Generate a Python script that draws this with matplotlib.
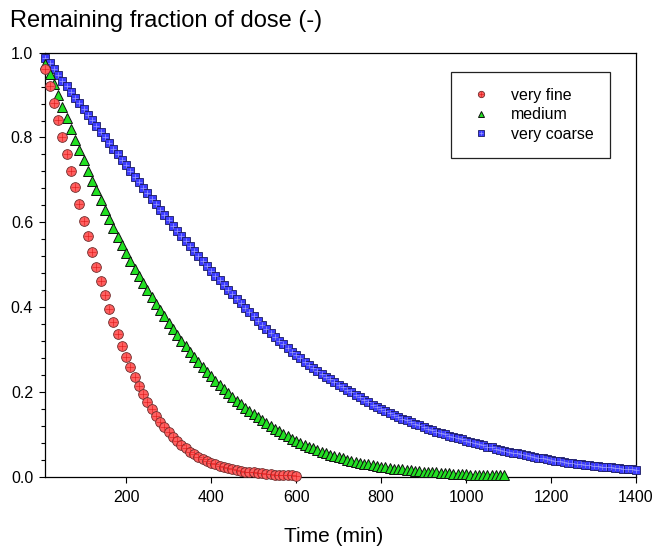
import numpy as np
import matplotlib
matplotlib.use('Agg')
import matplotlib.pyplot as plt
from matplotlib.ticker import MultipleLocator

plt.rcParams['font.family'] = ['Liberation Sans', 'DejaVu Sans']

# Remaining fraction of dose, one point every 10 min starting at 10 min
very_fine = [
    0.961, 0.922, 0.881, 0.841, 0.800, 0.761, 0.722, 0.683, 0.643, 0.604,
    0.567, 0.530, 0.495, 0.461, 0.428, 0.396, 0.365, 0.336, 0.309, 0.283,
    0.258, 0.235, 0.214, 0.195, 0.177, 0.160, 0.144, 0.130, 0.117, 0.105,
    0.094, 0.084, 0.075, 0.067, 0.059, 0.053, 0.047, 0.042, 0.037, 0.033,
    0.029, 0.026, 0.023, 0.020, 0.018, 0.016, 0.014, 0.012, 0.011, 0.010,
    0.009, 0.008, 0.007, 0.006, 0.005, 0.004, 0.004, 0.003, 0.003, 0.002,
]
medium = [
    0.973, 0.950, 0.926, 0.900, 0.873, 0.846, 0.820, 0.795, 0.770, 0.746,
    0.722, 0.698, 0.675, 0.652, 0.630, 0.608, 0.587, 0.566, 0.546, 0.527,
    0.508, 0.490, 0.473, 0.456, 0.440, 0.424, 0.408, 0.393, 0.378, 0.363,
    0.349, 0.335, 0.321, 0.308, 0.295, 0.283, 0.271, 0.259, 0.248, 0.237,
    0.226, 0.216, 0.206, 0.197, 0.188, 0.179, 0.171, 0.163, 0.155, 0.147,
    0.140, 0.133, 0.126, 0.119, 0.113, 0.107, 0.101, 0.095, 0.090, 0.085,
    0.080, 0.075, 0.071, 0.067, 0.063, 0.059, 0.055, 0.052, 0.049, 0.046,
    0.043, 0.040, 0.038, 0.035, 0.033, 0.031, 0.029, 0.027, 0.025, 0.023,
    0.022, 0.020, 0.019, 0.018, 0.017, 0.016, 0.015, 0.014, 0.013, 0.012,
    0.011, 0.010, 0.010, 0.009, 0.008, 0.008, 0.007, 0.007, 0.006, 0.006,
    0.005, 0.005, 0.005, 0.004, 0.004, 0.004, 0.003, 0.003, 0.003,
]
very_coarse = [
    0.988, 0.975, 0.961, 0.948, 0.934, 0.921, 0.908, 0.894, 0.881, 0.867,
    0.854, 0.841, 0.827, 0.814, 0.801, 0.787, 0.774, 0.760, 0.747, 0.734,
    0.721, 0.707, 0.694, 0.681, 0.668, 0.655, 0.642, 0.630, 0.617, 0.605,
    0.592, 0.580, 0.568, 0.556, 0.544, 0.532, 0.520, 0.508, 0.497, 0.485,
    0.474, 0.463, 0.452, 0.441, 0.430, 0.419, 0.409, 0.398, 0.388, 0.378,
    0.368, 0.358, 0.349, 0.339, 0.330, 0.321, 0.312, 0.304, 0.295, 0.287,
    0.279, 0.271, 0.264, 0.256, 0.249, 0.243, 0.236, 0.230, 0.223, 0.217,
    0.211, 0.205, 0.199, 0.193, 0.187, 0.181, 0.176, 0.170, 0.165, 0.160,
    0.155, 0.150, 0.145, 0.141, 0.137, 0.133, 0.129, 0.125, 0.121, 0.117,
    0.113, 0.110, 0.106, 0.103, 0.100, 0.097, 0.094, 0.091, 0.088, 0.085,
    0.082, 0.079, 0.076, 0.074, 0.071, 0.069, 0.066, 0.064, 0.061, 0.059,
    0.057, 0.055, 0.053, 0.051, 0.049, 0.047, 0.045, 0.043, 0.041, 0.040,
    0.038, 0.036, 0.035, 0.033, 0.032, 0.031, 0.029, 0.028, 0.027, 0.026,
    0.025, 0.024, 0.023, 0.022, 0.021, 0.020, 0.019, 0.018, 0.017, 0.016,
]
labels = ['very fine', 'medium', 'very coarse']
time_step = 10

t_fine = time_step * np.arange(1, len(very_fine) + 1)
t_medium = time_step * np.arange(1, len(medium) + 1)
t_coarse = time_step * np.arange(1, len(very_coarse) + 1)

fig = plt.figure(figsize=(6.54, 5.52), dpi=100)
ax = fig.add_axes([45 / 654, 1 - 476.7 / 552, 591 / 654, 424 / 552])

# blue squares with a light grid, drawn first
h3 = ax.plot(t_coarse, very_coarse, ls='none', marker='s', ms=5.9, mfc='#3b3bff',
             mec='#1a1a60', mew=0.6, clip_on=False, zorder=3)[0]
h3c = ax.plot(t_coarse, very_coarse, ls='none', marker='+', ms=5.0, mec='#9a9aff',
              mew=0.5, clip_on=False, zorder=3.1)[0]

# green triangles
h2 = ax.plot(t_medium, medium, ls='none', marker='^', ms=6.8, mfc='#22e022',
             mec='#101010', mew=0.7, clip_on=False, zorder=4)[0]

# red circles with a thin cross
h1 = ax.plot(t_fine, very_fine, ls='none', marker='o', ms=7.0, mfc='#ff6060',
             mec='#6a2a2a', mew=0.6, clip_on=False, zorder=5)[0]
h1c = ax.plot(t_fine, very_fine, ls='none', marker='+', ms=5.6, mec='#e02020',
              mew=0.45, clip_on=False, zorder=5.1)[0]

ax.set_xlim(9, 1400)
ax.set_ylim(0, 1.0)
ax.set_xticks([200, 400, 600, 800, 1000, 1200, 1400])
ax.yaxis.set_major_locator(MultipleLocator(0.2))
ax.yaxis.set_minor_locator(MultipleLocator(0.04))
ax.yaxis.set_major_formatter(plt.FormatStrFormatter('%.1f'))
ax.tick_params(axis='both', which='major', direction='out', length=4.5, width=0.8,
               labelsize=11.5, color='black')
ax.tick_params(axis='y', which='minor', direction='out', length=3, width=0.8)
ax.tick_params(axis='x', pad=5)
ax.tick_params(axis='y', pad=4)
for side in ['top', 'right', 'bottom', 'left']:
    ax.spines[side].set_linewidth(0.9)

fig.text(10 / 654, 1 - 21 / 552, 'Remaining fraction of dose (-)', fontsize=17,
         ha='left', va='center')
fig.text(334 / 654, 1 - 537 / 552, 'Time (min)', fontsize=15, ha='center', va='center')

leg = ax.legend([(h1, h1c), h2, (h3, h3c)], labels, loc='upper right',
                bbox_to_anchor=(0.956, 0.9545), borderaxespad=0, fontsize=11.5,
                markerscale=0.65, handlelength=1.8, handletextpad=1.0,
                labelspacing=0.28, borderpad=1.0, fancybox=False, framealpha=1)
leg.get_frame().set_edgecolor('#222222')
leg.get_frame().set_linewidth(0.9)

fig.savefig('out.png', dpi=100)
